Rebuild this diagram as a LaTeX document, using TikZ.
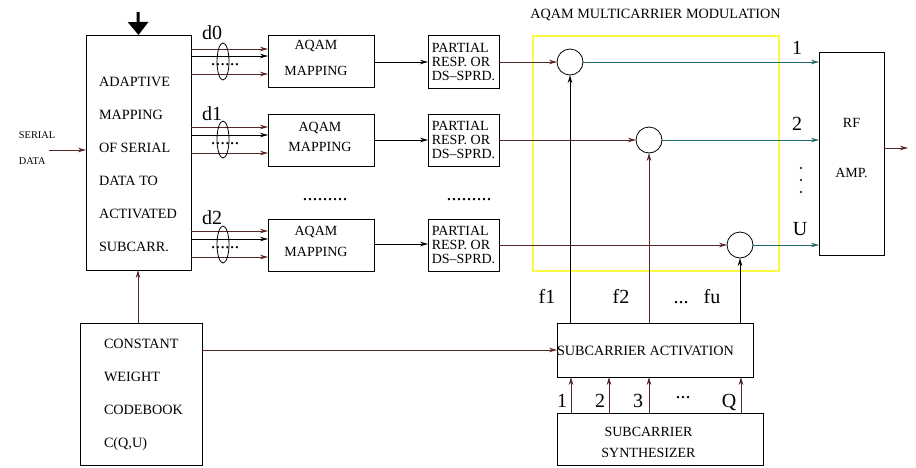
\documentclass[tikz,border=0pt]{standalone}
\usepackage{fontspec}
\setmainfont{Liberation Serif}
\usetikzlibrary{arrows.meta}
\definecolor{brn}{RGB}{85,40,40}
\definecolor{tealc}{RGB}{30,105,105}
\definecolor{ylw}{RGB}{250,250,70}
\begin{document}
\begin{tikzpicture}[x=1pt,y=-1pt,
  every node/.style={inner sep=0pt,outer sep=0pt},
  blk/.style={draw,line width=0.8pt},
  txt/.style={font=\fontsize{14.2}{14}\selectfont},
  bigl/.style={font=\fontsize{20}{20}\selectfont},
  arr/.style={-{Stealth[length=8pt,width=4.5pt]},line width=0.8pt},
  ln/.style={line width=0.8pt}]
\useasboundingbox (0,0) rectangle (916,467);

% boxes
\node[blk,minimum width=105pt,minimum height=235pt] (map) at (138.5,152.5) {};
\node[blk,minimum width=122pt,minimum height=142pt] (cwc) at (141,394) {};
\node[blk,minimum width=106pt,minimum height=52pt] (aq1) at (321,61) {};
\node[blk,minimum width=106pt,minimum height=52pt] (aq2) at (321,140) {};
\node[blk,minimum width=106pt,minimum height=52pt] (aq3) at (321,245) {};
\node[blk,minimum width=71pt,minimum height=53pt,align=left,font=\fontsize{14}{14}\selectfont] (pr1) at (463.5,61.5) {PARTIAL\\RESP. OR\\DS--SPRD.};
\node[blk,minimum width=71pt,minimum height=52pt,align=left,font=\fontsize{14}{14}\selectfont] (pr2) at (463.5,140) {PARTIAL\\RESP. OR\\DS--SPRD.};
\node[blk,minimum width=71pt,minimum height=52pt,align=left,font=\fontsize{14}{14}\selectfont] (pr3) at (463.5,245) {PARTIAL\\RESP. OR\\DS--SPRD.};
\node[blk,minimum width=65pt,minimum height=203pt] (rf) at (851.5,153.5) {};
\node[blk,minimum width=196pt,minimum height=54pt] (act) at (655,350) {};
\node[blk,minimum width=206pt,minimum height=52pt] (syn) at (660,439) {};
\draw[ylw,line width=1.1pt] (533,36) rectangle (779,271);

% texts in boxes
\node[anchor=west,align=left,font=\fontsize{14.2}{33}\selectfont] (maptext) at (99,164.5)
  {ADAPTIVE\\MAPPING\\OF SERIAL\\DATA TO\\ACTIVATED\\SUBCARR.};
\node[anchor=west,align=left,font=\fontsize{14.2}{33}\selectfont] (cwctext) at (104,394.5)
  {CONSTANT\\WEIGHT\\CODEBOOK\\C(Q,U)};
\node[align=center,font=\fontsize{14}{26}\selectfont] (aq1t) at (316,58) {AQAM\\MAPPING};
\node[align=center,font=\fontsize{14}{20}\selectfont] (aq2t) at (320,137) {AQAM\\MAPPING};
\node[align=center,font=\fontsize{14}{21}\selectfont] (aq3t) at (316,241.5) {AQAM\\MAPPING};
\node[align=center,font=\fontsize{14}{50}\selectfont] (rft) at (851.5,148) {RF\\AMP.};
\node[txt,anchor=west] (actt) at (557,351) {SUBCARRIER ACTIVATION};
\node[align=center,font=\fontsize{14}{21}\selectfont] (synt) at (648.5,442.5) {SUBCARRIER\\SYNTHESIZER};
\node[txt] (title) at (655.5,15) {AQAM MULTICARRIER MODULATION};
\node[align=left,font=\fontsize{10.3}{26}\selectfont,anchor=west] (ser) at (19,148) {SERIAL\\DATA};

% circles
\node[draw,circle,line width=0.8pt,minimum size=26pt] (c1) at (570,62) {};
\node[draw,circle,line width=0.8pt,minimum size=26pt] (c2) at (649,140) {};
\node[draw,circle,line width=0.8pt,minimum size=26pt] (c3) at (740,245) {};

% top thick arrow and inputs
\coordinate (topin) at (138,12);
\draw[line width=3pt,-{Triangle[width=20pt,length=13pt]}] (topin) -- (map.north);
\coordinate (serin) at (49,150);
\draw[arr,brn] (serin) -- (serin -| map.west);
\draw[arr,brn] (cwc.north -| 138,0) -- (map.south -| 138,0);

% d groups
\foreach \a/\b/\c/\bx/\ey/\dy/\lab/\lb in {49/56/74/aq1/61.5/65/d0/39, 127/135/153/aq2/139.5/144/d1/120, 231/239/257/aq3/244.5/248/d2/224}{
  \draw[arr,brn] (map.east |- 0,\a) -- (\bx.west |- 0,\a);
  \draw[arr,black] (map.east |- 0,\b) -- (\bx.west |- 0,\b);
  \draw[arr,brn] (map.east |- 0,\c) -- (\bx.west |- 0,\c);
  \draw[ln] (223,\ey) ellipse [x radius=6, y radius=18.5];
  \node[font=\fontsize{19}{19}\selectfont,anchor=base] at (225,\dy) {......};
  \node[bigl,anchor=base] at (212,\lb) {\lab};
}
\node[font=\fontsize{20}{20}\selectfont,anchor=base] (dots1) at (325,200) {.........};
\node[font=\fontsize{20}{20}\selectfont,anchor=base] (dots2) at (469,200) {.........};

% AQAM -> partial
\draw[arr] (aq1.east |- 0,62) -- (pr1.west |- 0,62);
\draw[arr] (aq2.east |- 0,140) -- (pr2.west |- 0,140);
\draw[arr] (aq3.east |- 0,244) -- (pr3.west |- 0,244);

% partial -> circles
\draw[arr,brn] (pr1.east |- c1) -- (c1.west);
\draw[arr,brn] (pr2.east |- c2) -- (c2.west);
\draw[arr,brn] (pr3.east |- c3) -- (c3.west);

% circles -> RF
\draw[arr,tealc] (c1.east) -- (c1 -| rf.west);
\draw[arr,tealc] (c2.east) -- (c2 -| rf.west);
\draw[arr,tealc] (c3.east) -- (c3 -| rf.west);
\coordinate (rfout) at (908,148);
\draw[arr,brn] (rf.east |- rfout) -- (rfout);
\node[bigl,anchor=base] at (797,54) {1};
\node[bigl,anchor=base] at (797,130) {2};
\node[bigl,anchor=base] at (800,235) {U};
\foreach \yy in {168,180,192} \fill (801,\yy) circle (1.2pt);

% activation -> circles
\draw[arr,black] (act.north -| c1) -- (c1.south);
\draw[arr,brn] (act.north -| c2) -- (c2.south);
\draw[arr,black] (act.north -| c3) -- (c3.south);
\node[bigl,anchor=base] at (547,303) {f1};
\node[bigl,anchor=base] at (621,303) {f2};
\node[bigl,anchor=base] at (681,303) {...};
\node[bigl,anchor=base] at (712,303) {fu};

% constant -> activation
\draw[arr,brn] (cwc.east |- 0,350) -- (act.west |- 0,350);

% synth -> activation
\foreach \xx in {571,609,649,741} \draw[arr,brn] (syn.north -| \xx,0) -- (act.south -| \xx,0);
\node[bigl,anchor=base] at (562,407) {1};
\node[bigl,anchor=base] at (600,407) {2};
\node[bigl,anchor=base] at (638,407) {3};
\node[bigl,anchor=base] at (683,398) {...};
\node[bigl,anchor=base] at (729,407) {Q};
\end{tikzpicture}
\end{document}
